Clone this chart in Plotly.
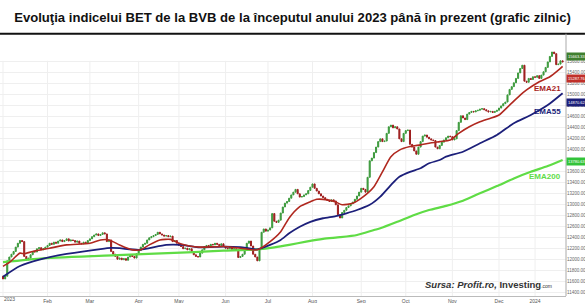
import plotly.graph_objects as go

# ---- data (daily closes, trading-day index) ----
first_open = 11700
close_jan = [11650, 11700, 11980, 12050, 12100, 12150, 12230, 12300, 12350, 12330,
             12060, 12000, 12030, 12090, 12150, 12140, 12200, 12220, 12180, 12200, 12230]
close_feb = [12260, 12300, 12280, 12320, 12300, 12340, 12360, 12330, 12350, 12380,
             12340, 12360, 12350, 12320, 12340, 12300, 12290, 12320, 12300, 12350]
close_mar = [12380, 12420, 12450, 12470, 12440, 12460, 12490, 12470, 12330, 12360,
             12150, 12100, 12060, 12010, 12030, 12000, 12020, 11990, 12050, 12080,
             12060, 12030, 12110]
close_apr = [12170, 12230, 12280, 12300, 12360, 12400, 12420, 12440, 12460, 12500,
             12470, 12450, 12430, 12440, 12420, 12430, 12330, 12350, 12300]
close_may = [12260, 12240, 12200, 12210, 12180, 12200, 12150, 12090, 12060, 12050,
             12120, 12180, 12240, 12260, 12250, 12280, 12270, 12300, 12280, 12260,
             12290, 12240]
close_jun = [12210, 12200, 12220, 12190, 12200, 12180, 12040, 12060, 12100, 12200,
             12300, 12340, 12250, 12100, 12050, 11980, 12200, 12500, 12560, 12520]
close_jul = [12540, 12580, 12840, 12700, 12680, 12720, 12850, 12960, 13030, 13060,
             13120, 13180, 13230, 13280, 13200, 13140, 13150, 13180, 13200, 13260, 13320]
close_aug = [13380, 13300, 13250, 13200, 13160, 13130, 13100, 13080, 13060, 13090,
             13070, 13000, 12820, 12760, 12860, 12900, 12950, 12980, 13020, 13050,
             13100, 13160, 13230]
close_sep = [13300, 13280, 13230, 13500, 13800, 13850, 13950, 14050, 14150, 14200,
             14150, 14160, 14300, 14420, 14450, 14400, 14420, 14380, 14200, 14150, 14300]
close_oct = [14350, 14360, 14100, 14050, 13980, 13920, 14050, 14150, 14250, 14270,
             14230, 14200, 14180, 14170, 14050, 14020, 14080, 14140, 14180, 14220,
             14250, 14240]
close_nov = [14180, 14200, 14350, 14500, 14620, 14580, 14550, 14650, 14680, 14700,
             14690, 14710, 14720, 14740, 14750, 14730, 14710, 14690, 14700, 14680,
             14700, 14720]
close_dec = [14760, 14800, 14840, 14870, 15000, 15100, 15150, 15220, 15300, 15400,
             15480, 15540, 15250, 15230, 15300, 15280, 15330]
close_jan24 = [15320, 15350, 15300, 15360, 15420, 15500, 15600, 15700, 15780, 15750,
               15550, 15560, 15620, 15600]

# EMA vertices (trading-day index, value)
ema21_idx = [0, 3, 8, 10, 14, 22, 30, 41, 46, 50, 55, 61, 65, 69, 74, 79, 83, 88, 93,
             104, 112, 120, 126, 131, 135, 140, 145, 148, 153, 157, 160, 165, 170, 175,
             179, 183, 187, 192, 197, 201, 206, 211, 215, 220, 225, 230, 234, 239, 244,
             247, 253, 258, 262, 264]
ema21_val = [11880, 11950, 12120, 12110, 12150, 12210, 12270, 12300, 12360, 12360, 12270,
             12180, 12180, 12270, 12360, 12370, 12300, 12250, 12230, 12240, 12210, 12180,
             12330, 12510, 12760, 12965, 13055, 13100, 13090, 13050, 13000, 13030, 13150,
             13330, 13600, 13875, 13995, 14060, 14090, 14120, 14150, 14180, 14300, 14420,
             14510, 14575, 14635, 14815, 14995, 15090, 15240, 15330, 15450, 15520]
ema55_idx = [0, 8, 19, 30, 46, 51, 55, 64, 77, 84, 93, 104, 112, 120, 126, 131, 135, 140,
             145, 151, 157, 162, 167, 173, 178, 183, 187, 192, 197, 201, 206, 209, 217,
             225, 233, 241, 249, 257, 264]
ema55_val = [11690, 11885, 12020, 12105, 12195, 12215, 12210, 12180, 12270, 12270, 12225,
             12240, 12230, 12190, 12270, 12360, 12480, 12600, 12690, 12755, 12795, 12845,
             12905, 13000, 13150, 13360, 13510, 13600, 13665, 13755, 13815, 13875, 13965,
             14120, 14270, 14485, 14635, 14815, 15030]
ema200_idx = [0, 19, 54, 90, 104, 120, 128, 135, 143, 151, 159, 167, 175, 178, 186, 194,
              201, 209, 217, 225, 233, 241, 249, 257, 264]
ema200_val = [11955, 12025, 12085, 12140, 12165, 12190, 12225, 12270, 12330, 12380, 12410,
              12450, 12540, 12572, 12690, 12815, 12905, 12980, 13075, 13210, 13340, 13480,
              13600, 13705, 13815]

month_idx = [0, 21, 41, 64, 83, 105, 125, 146, 169, 190, 212, 234, 251]
month_lbl = ["2023", "Feb", "Mar", "Apr", "May", "Jun", "Jul", "Aug", "Sep", "Oct",
             "Nov", "Dec", "2024"]
ytick_vals = [11400 + 200 * k for k in range(22)]

last_labels = [("15663.33", 15695, "#3f7f2f"), ("15287.76", 15290, "#c0302a"),
               ("14870.62", 14870, "#1c1f7a"), ("13780.63", 13780, "#33c33a")]

# ---- build ----
closes = (close_jan + close_feb + close_mar + close_apr + close_may + close_jun +
          close_jul + close_aug + close_sep + close_oct + close_nov + close_dec + close_jan24)
opens = [first_open] + closes[:-1]
highs = [max(o, c) for o, c in zip(opens, closes)]
lows = [min(o, c) for o, c in zip(opens, closes)]
xs = list(range(len(closes)))

fig = go.Figure()
fig.add_trace(go.Candlestick(
    x=xs, open=opens, high=highs, low=lows, close=closes,
    increasing=dict(line=dict(color="#3d9a3d", width=1), fillcolor="#3d9a3d"),
    decreasing=dict(line=dict(color="#9e1f1f", width=1), fillcolor="#9e1f1f"),
    whiskerwidth=0, showlegend=False, hoverinfo="skip"))
fig.add_trace(go.Scatter(x=ema200_idx, y=ema200_val, mode="lines",
                         line=dict(color="#5fdc45", width=2.2, shape="spline", smoothing=0.6),
                         showlegend=False, hoverinfo="skip"))
fig.add_trace(go.Scatter(x=ema55_idx, y=ema55_val, mode="lines",
                         line=dict(color="#1c1f7a", width=1.8, shape="spline", smoothing=0.6),
                         showlegend=False, hoverinfo="skip"))
fig.add_trace(go.Scatter(x=ema21_idx, y=ema21_val, mode="lines",
                         line=dict(color="#b0281f", width=1.6, shape="spline", smoothing=0.6),
                         showlegend=False, hoverinfo="skip"))

ytop = 15908
ybot = 11340
# vertical grid lines
for mi in month_idx:
    fig.add_shape(type="line", xref="x", yref="y", x0=mi, x1=mi, y0=ybot, y1=15620,
                  line=dict(color="#efefef", width=1), layer="below")

annotations = []
for txt, val, col in last_labels:
    annotations.append(dict(x=1.0, xref="paper", xanchor="left", y=val, yref="y",
                            text=txt, showarrow=False, bgcolor=col,
                            font=dict(size=4, color="white", family="Liberation Sans"),
                            borderpad=1))
annotations += [
    dict(x=0.995, xref="paper", xanchor="right", y=15125, yref="y", text="<b>EMA21</b>",
         showarrow=False, font=dict(size=8, color="#a8241c", family="Liberation Sans")),
    dict(x=0.995, xref="paper", xanchor="right", y=14690, yref="y", text="<b>EMA55</b>",
         showarrow=False, font=dict(size=8, color="#1c1f7a", family="Liberation Sans")),
    dict(x=0.995, xref="paper", xanchor="right", y=13510, yref="y", text="<b>EMA200</b>",
         showarrow=False, font=dict(size=8, color="#5fdc45", family="Liberation Sans")),
    dict(x=0.978, xref="paper", xanchor="right", y=11550, yref="y",
         text="<b><i>Sursa: Profit.ro,</i></b> <b>Investing</b><span style='font-size:5px'>.com</span>",
         showarrow=False, font=dict(size=9.5, color="#333333", family="Liberation Sans")),
    dict(x=0, xref="x", xanchor="left", y=-0.011, yref="paper", yanchor="middle",
         text="2023", showarrow=False, borderpad=0,
         font=dict(size=5, color="#555555", family="Liberation Sans")),
]

fig.update_layout(
    width=585, height=303,
    margin=dict(l=0, r=19, t=45, b=7),
    paper_bgcolor="white", plot_bgcolor="white",
    title=dict(text="<b>Evoluţia indicelui BET de la BVB de la începutul anului 2023 până în prezent (grafic zilnic)</b>",
               x=0.5, xanchor="center", y=0.943, yanchor="middle",
               font=dict(size=13.1, color="#111111", family="Liberation Sans")),
    annotations=annotations,
    xaxis=dict(range=[-1.42, 265.6], tickvals=month_idx[1:], ticktext=month_lbl[1:],
               showgrid=False, zeroline=False, rangeslider=dict(visible=False),
               showline=True, linecolor="#bbbbbb", linewidth=1, ticks="",
               tickfont=dict(size=5, color="#555555", family="Liberation Sans"),
               fixedrange=True),
    yaxis=dict(range=[ybot, ytop], side="right", tickvals=ytick_vals, tickformat=".2f",
               showgrid=True, gridcolor="#efefef", gridwidth=1, zeroline=False,
               showline=False, ticks="",
               tickfont=dict(size=4.5, color="#666666", family="Liberation Sans"),
               fixedrange=True),
    shapes=list(fig.layout.shapes) + [
        dict(type="line", xref="paper", yref="paper", x0=0, x1=1.0335, y0=1.045, y1=1.045,
             line=dict(color="#111111", width=2)),
        dict(type="line", xref="paper", yref="paper", x0=1.0, x1=1.0, y0=0, y1=1.045,
             line=dict(color="#aaaaaa", width=1)),
    ],
)

fig.write_html("out.html")
